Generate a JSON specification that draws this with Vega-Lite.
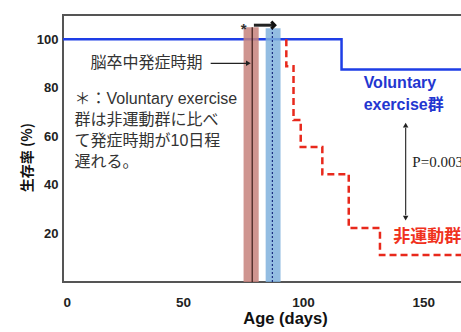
{
  "$schema": "https://vega.github.io/schema/vega-lite/v6.json",
  "autosize": "none",
  "width": 401,
  "height": 267,
  "padding": {"left": 63, "top": 15, "right": 0, "bottom": 50},
  "background": "white",
  "config": {
    "view": {"stroke": "#555", "strokeWidth": 2},
    "font": "Liberation Sans, Noto Sans CJK JP",
    "axis": {"grid": false, "ticks": false, "domain": false, "labelFont": "Liberation Sans", "labelFontWeight": "bold", "labelFontSize": 13, "labelColor": "#222", "titleColor": "#111", "titleFontWeight": "bold"}
  },
  "datasets": {
    "blue": [{"x": 0, "y": 100}, {"x": 116, "y": 87.5}, {"x": 167, "y": 87.5}],
    "red": [{"x": 93, "y": 100}, {"x": 93, "y": 88.9}, {"x": 96, "y": 66.7}, {"x": 99, "y": 55.6}, {"x": 108, "y": 44.4}, {"x": 119, "y": 22.2}, {"x": 132, "y": 11.1}, {"x": 167, "y": 11.1}],
    "bands": [{"x": 75.2, "x2": 81.5, "y": 0, "y2": 105, "g": "sed"}, {"x": 84.4, "x2": 90.6, "y": 0, "y2": 104.5, "g": "ex"}],
    "centers": [{"x": 78.8, "y": 0, "y2": 105, "g": "sed"}, {"x": 87.2, "y": 0, "y2": 104.5, "g": "ex"}],
    "notes": [
      {"x": 4.8, "y": 75.3, "t": "＊：Voluntary exercise"},
      {"x": 4.8, "y": 66.8, "t": "群は非運動群に比べ"},
      {"x": 4.8, "y": 58.1, "t": "て発症時期が10日程"},
      {"x": 4.8, "y": 49.5, "t": "遅れる。"},
      {"x": 11.5, "y": 90.1, "t": "脳卒中発症時期"}
    ],
    "blueLabel": [{"x": 125.2, "y": 81.9, "t": "Voluntary"}, {"x": 125.2, "y": 72.8, "t": "exercise群"}],
    "redLabel": [{"x": 137.5, "y": 18.5, "t": "非運動群"}],
    "pval": [{"x": 145.5, "y": 49.4, "t": "P=0.003"}],
    "star": [{"x": 75.2, "y": 104.3, "t": "*"}],
    "hArrows": [{"x": 61.5, "x2": 76.4, "y": 90.1, "a": "onset"}, {"x": 79.5, "x2": 87.5, "y": 105.8, "a": "delay"}],
    "vArrow": [{"x": 142.7, "y": 27.5, "y2": 63.5}],
    "heads": [{"x": 77.2, "y": 90.1, "s": "r"}, {"x": 142.7, "y": 64.6, "s": "u"}, {"x": 142.7, "y": 26.3, "s": "d"}],
    "chevron": [{"x": 88.2, "y": 105.8}]
  },
  "layer": [
    {
      "data": {"name": "blue"},
      "mark": {"type": "line", "interpolate": "step-after", "color": "#1e3ee6", "strokeWidth": 2.5},
      "encoding": {
        "x": {"field": "x", "type": "quantitative", "scale": {"domain": [0, 167], "nice": false}, "axis": {"values": [0, 50, 100, 150], "labelPadding": 13, "labelFontSize": 13.5, "title": "Age (days)", "titleFontSize": 16.5, "titlePadding": 2, "titleX": 222}},
        "y": {"field": "y", "type": "quantitative", "scale": {"domain": [0, 110], "nice": false}, "axis": {"values": [20, 40, 60, 80, 100], "labelPadding": 5, "title": "生存率 (%)", "titleFont": "Noto Sans CJK JP", "titleFontSize": 14, "titleBaseline": "middle", "titleX": -36, "titleY": 142}}
      }
    },
    {
      "data": {"name": "red"},
      "mark": {"type": "line", "interpolate": "step-after", "color": "#e8291c", "strokeWidth": 2.5, "strokeDash": [7, 4]},
      "encoding": {
        "x": {"field": "x", "type": "quantitative"},
        "y": {"field": "y", "type": "quantitative"}
      }
    },
    {
      "data": {"name": "bands"},
      "mark": {"type": "rect", "opacity": 0.85},
      "encoding": {
        "x": {"field": "x", "type": "quantitative"},
        "x2": {"field": "x2"},
        "y": {"field": "y", "type": "quantitative"},
        "y2": {"field": "y2"},
        "color": {"field": "g", "type": "nominal", "scale": {"domain": ["sed", "ex"], "range": ["#c7837d", "#80b1dd"]}, "legend": null}
      }
    },
    {
      "data": {"name": "centers"},
      "transform": [{"filter": "datum.g == 'sed'"}],
      "mark": {"type": "rule", "color": "#3a1a18", "strokeWidth": 1.2},
      "encoding": {
        "x": {"field": "x", "type": "quantitative"},
        "y": {"field": "y", "type": "quantitative"},
        "y2": {"field": "y2"}
      }
    },
    {
      "data": {"name": "centers"},
      "transform": [{"filter": "datum.g == 'ex'"}],
      "mark": {"type": "rule", "color": "#1b2f80", "strokeWidth": 1.2, "strokeDash": [2, 2]},
      "encoding": {
        "x": {"field": "x", "type": "quantitative"},
        "y": {"field": "y", "type": "quantitative"},
        "y2": {"field": "y2"}
      }
    },
    {
      "data": {"name": "hArrows"},
      "mark": {"type": "rule", "color": "#222"},
      "encoding": {
        "x": {"field": "x", "type": "quantitative"},
        "x2": {"field": "x2"},
        "y": {"field": "y", "type": "quantitative"},
        "strokeWidth": {"field": "a", "type": "nominal", "scale": {"domain": ["onset", "delay"], "range": [1.2, 3]}, "legend": null}
      }
    },
    {
      "data": {"name": "vArrow"},
      "mark": {"type": "rule", "color": "#333", "strokeWidth": 1.2},
      "encoding": {
        "x": {"field": "x", "type": "quantitative"},
        "y": {"field": "y", "type": "quantitative"},
        "y2": {"field": "y2"}
      }
    },
    {
      "data": {"name": "heads"},
      "mark": {"type": "point", "filled": true, "color": "#222", "size": 30, "opacity": 1},
      "encoding": {
        "x": {"field": "x", "type": "quantitative"},
        "y": {"field": "y", "type": "quantitative"},
        "shape": {"field": "s", "type": "nominal", "scale": {"domain": ["r", "u", "d"], "range": ["triangle-right", "triangle-up", "triangle-down"]}, "legend": null}
      }
    },
    {
      "data": {"name": "chevron"},
      "mark": {"type": "point", "shape": "M -1 -1 L 0 0 L -1 1", "filled": false, "color": "#111", "strokeWidth": 3, "size": 50, "opacity": 1},
      "encoding": {
        "x": {"field": "x", "type": "quantitative"},
        "y": {"field": "y", "type": "quantitative"}
      }
    },
    {
      "data": {"name": "notes"},
      "mark": {"type": "text", "align": "left", "baseline": "middle", "font": "Liberation Sans, Noto Sans CJK JP", "fontSize": 16, "color": "#333"},
      "encoding": {
        "x": {"field": "x", "type": "quantitative"},
        "y": {"field": "y", "type": "quantitative"},
        "text": {"field": "t"}
      }
    },
    {
      "data": {"name": "blueLabel"},
      "mark": {"type": "text", "align": "left", "baseline": "middle", "font": "Liberation Sans, Noto Sans CJK JP", "fontSize": 16, "fontWeight": "bold", "color": "#2336d0"},
      "encoding": {
        "x": {"field": "x", "type": "quantitative"},
        "y": {"field": "y", "type": "quantitative"},
        "text": {"field": "t"}
      }
    },
    {
      "data": {"name": "redLabel"},
      "mark": {"type": "text", "align": "left", "baseline": "middle", "font": "Noto Sans CJK JP", "fontSize": 17, "fontWeight": "bold", "color": "#f0321e"},
      "encoding": {
        "x": {"field": "x", "type": "quantitative"},
        "y": {"field": "y", "type": "quantitative"},
        "text": {"field": "t"}
      }
    },
    {
      "data": {"name": "pval"},
      "mark": {"type": "text", "align": "left", "baseline": "middle", "font": "Liberation Serif", "fontSize": 15, "color": "#222"},
      "encoding": {
        "x": {"field": "x", "type": "quantitative"},
        "y": {"field": "y", "type": "quantitative"},
        "text": {"field": "t"}
      }
    },
    {
      "data": {"name": "star"},
      "mark": {"type": "text", "align": "center", "baseline": "middle", "font": "Liberation Sans", "fontSize": 15, "fontWeight": "bold", "color": "#333"},
      "encoding": {
        "x": {"field": "x", "type": "quantitative"},
        "y": {"field": "y", "type": "quantitative"},
        "text": {"field": "t"}
      }
    }
  ]
}
